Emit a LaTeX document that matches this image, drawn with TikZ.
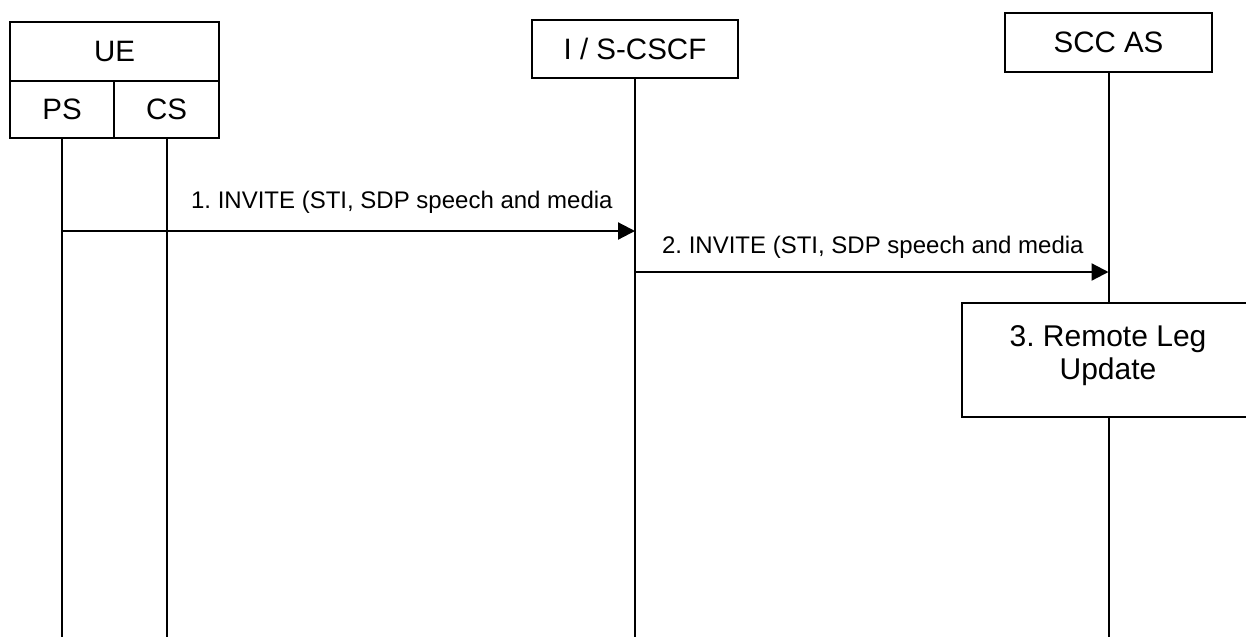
\documentclass[tikz,border=0pt]{standalone}
\usepackage{fontspec}
\setmainfont{Liberation Sans}
\usetikzlibrary{arrows.meta}
\frenchspacing
\tikzset{
	entity/.style={draw, line width=1pt, inner sep=0pt, minimum height=29pt, font=\fontsize{14.75}{17}\selectfont},
	lifeline/.style={line width=1pt},
	msg/.style={line width=1.1pt, -{Triangle[length=8.5pt,width=8.5pt]}},
	msglabel/.style={inner sep=0pt, font=\fontsize{12}{14}\selectfont},
}

\begin{document}
\begin{tikzpicture}[x=0.5pt,y=-0.5pt]
\useasboundingbox (0,0) rectangle (1246,637);
\clip (0,0) rectangle (1246,637);
% entities
\node[entity, minimum width=104.5pt, minimum height=29.5pt] (ue) at (114.5,51.5) {UE};
\node[entity, minimum width=52pt, minimum height=28.5pt] (ps) at (62,109.5) {PS};
\node[entity, minimum width=52.5pt, minimum height=28.5pt] (cs) at (166.5,109.5) {CS};
\node[entity, minimum width=103pt] (cscf) at (635,49) {I / S-CSCF};
\node[entity, minimum width=103.5pt, minimum height=29.5pt] (scc) at (1108.5,42.5) {SCC AS};
\node[draw, line width=1pt, minimum width=146pt, minimum height=57pt] (remote) at (1108,360) {};
\node[align=center, inner sep=0pt, font=\fontsize{15}{16.5}\selectfont] (remotetxt) at ([yshift=2pt]remote.center) {3. Remote Leg\\Update};
\coordinate (bot) at (0,637);
\coordinate (y1) at (0,231);
\coordinate (y2) at (0,272);
% lifelines
\draw[lifeline] (ps.south) -- (ps.south |- bot);
\draw[lifeline] (cs.south) -- (cs.south |- bot);
\draw[lifeline] (cscf.south) -- (cscf.south |- bot);
\draw[lifeline] (scc.south) -- (remote.north -| scc.south);
\draw[lifeline] (remote.south -| scc.south) -- (scc.south |- bot);
% messages
\draw[msg] (ps.south |- y1) -- (cscf.south |- y1);
\node[msglabel, anchor=base east] (m1) at (613,208) {1. INVITE (STI, SDP speech and media};
\draw[msg] (cscf.south |- y2) -- (scc.south |- y2);
\node[msglabel, anchor=base east] (m2) at (1084,253) {2. INVITE (STI, SDP speech and media};
\end{tikzpicture}
\end{document}
